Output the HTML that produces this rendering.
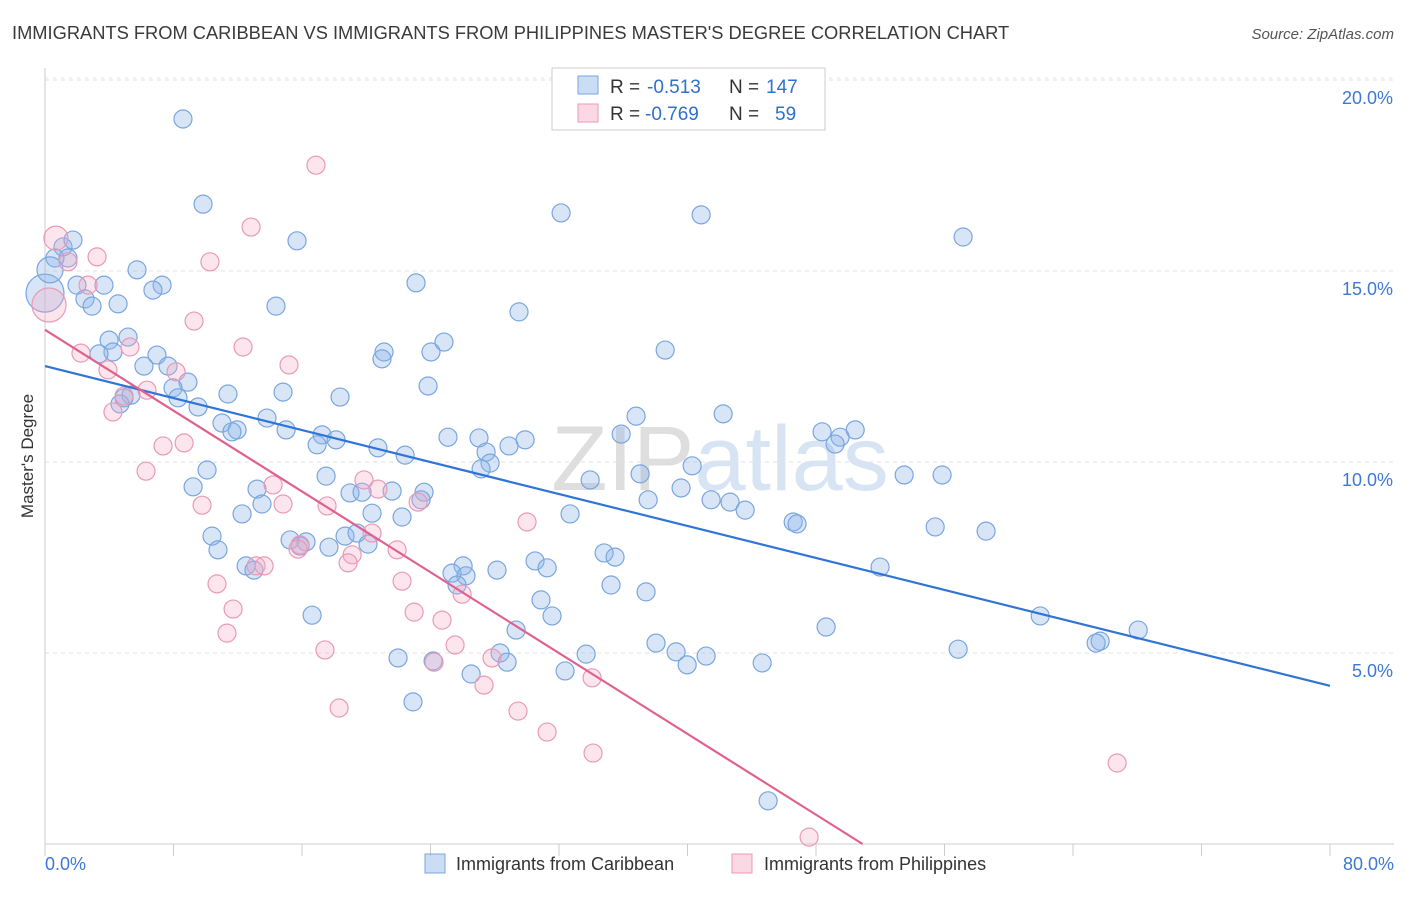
<!DOCTYPE html>
<html><head><meta charset="utf-8"><style>
body{margin:0;background:#fff;font-family:"Liberation Sans",sans-serif;}
svg text{font-family:"Liberation Sans",sans-serif;}
</style></head><body>
<svg id="chart" width="1406" height="892" viewBox="0 0 1406 892" xmlns="http://www.w3.org/2000/svg">
<text x="12" y="39" font-size="18.3" fill="#3a3a3a">IMMIGRANTS FROM CARIBBEAN VS IMMIGRANTS FROM PHILIPPINES MASTER'S DEGREE CORRELATION CHART</text>
<text x="1394" y="39" font-size="15" fill="#555" font-style="italic" text-anchor="end">Source: ZipAtlas.com</text>
<text x="720" y="490" font-size="92" fill="#e4e4e4" text-anchor="middle" font-family="Liberation Serif"><tspan fill="#dedede">ZIP</tspan><tspan fill="#d6e4f4" font-family="Liberation Sans">atlas</tspan></text>
<g id="grid"></g>
<g id="axes"></g>
<g id="pts"></g>
<g id="lines"></g>
<text transform="translate(33,456) rotate(-90)" font-size="17" fill="#333" text-anchor="middle">Master's Degree</text>
<g>
<rect x="552" y="68" width="273" height="62" fill="#fff" stroke="#ccc"/>
<rect x="578" y="76" width="20" height="18" fill="rgba(140,180,232,0.45)" stroke="#7aa6df"/>
<rect x="578" y="104" width="20" height="18" fill="rgba(244,170,196,0.45)" stroke="#e99ab5"/>
<g font-size="19">
<text x="610" y="93" fill="#333">R =</text>
<text x="647" y="93" fill="#2f6fd0">-0.513</text>
<text x="729" y="93" fill="#333">N =</text>
<text x="766" y="93" fill="#2f6fd0">147</text>
</g>
<g font-size="19">
<text x="610" y="120" fill="#333">R =</text>
<text x="645" y="120" fill="#2f6fd0">-0.769</text>
<text x="729" y="120" fill="#333">N =</text>
<text x="775" y="120" fill="#2f6fd0">59</text>
</g>
</g>
<g>
<rect x="425" y="854" width="20" height="19" fill="rgba(140,180,232,0.45)" stroke="#7aa6df"/>
<text x="456" y="870" font-size="18" fill="#333">Immigrants from Caribbean</text>
<rect x="732" y="854" width="20" height="19" fill="rgba(244,170,196,0.45)" stroke="#e99ab5"/>
<text x="764" y="870" font-size="18" fill="#333">Immigrants from Philippines</text>
</g>
</svg>
<script>
const yTicks=[5,10,15,20];
const xTickCount=[0,10,20,30,40,50,60,70,80];
const blueX=[8.59,9.84,15.69,32.13,40.85,57.16,1.12,1.74,1.43,0.62,5.73,1.99,3.67,7.29,6.72,2.49,2.93,4.55,14.38,23.10,29.51,5.17,3.99,4.23,3.36,6.97,6.16,7.66,24.84,24.03,21.11,20.98,38.61,8.90,7.97,8.28,11.39,14.82,18.37,23.85,4.92,5.35,9.53,4.67,13.82,11.02,11.96,11.64,15.01,17.25,18.12,16.94,20.73,22.42,25.09,27.02,29.89,27.46,28.89,27.71,27.15,36.80,42.22,35.87,48.38,50.44,49.50,49.19,10.09,9.22,17.50,13.20,13.51,12.27,18.99,19.74,21.61,23.60,23.41,20.36,22.23,33.94,37.05,40.29,37.55,39.60,41.47,42.65,43.59,32.69,46.58,46.82,53.49,55.85,55.42,58.59,10.40,10.77,15.26,16.25,15.88,17.68,18.68,19.43,20.11,12.52,13.01,26.03,25.34,26.21,28.14,30.51,31.26,34.81,35.49,35.24,25.65,37.42,30.88,31.57,29.33,51.99,61.96,65.69,65.44,68.06,48.63,56.85,16.63,38.04,39.29,41.16,39.98,33.69,28.33,28.77,21.98,24.16,26.53,32.38,44.65,22.91,45.02,0,0.31];
const blueY=[18.98,16.75,15.79,16.52,16.47,15.89,15.63,15.81,15.34,15.34,15.03,14.63,14.63,14.63,14.50,14.27,14.08,14.14,14.08,14.69,13.93,13.27,13.19,12.88,12.83,12.80,12.51,12.51,13.14,12.88,12.88,12.70,12.93,12.09,11.94,11.68,11.78,11.83,11.70,11.99,11.68,11.75,11.44,11.52,11.15,11.02,10.84,10.79,10.84,10.71,10.58,10.45,10.37,10.18,10.65,10.63,10.58,10.26,10.42,9.97,9.82,11.20,11.26,10.73,10.79,10.84,10.65,10.47,9.79,9.35,9.63,9.29,8.90,8.64,9.19,9.21,9.24,9.21,9.01,8.66,8.56,9.53,9.69,9.90,9.01,9.32,9.01,8.95,8.74,8.64,8.43,8.38,9.66,9.66,8.30,8.19,8.06,7.70,7.96,7.91,7.80,7.77,8.06,8.14,7.85,7.28,7.17,7.28,7.09,7.02,7.17,7.41,7.23,7.62,7.51,6.78,6.78,6.60,6.39,5.97,5.60,7.25,5.97,5.31,5.26,5.60,5.68,5.10,5.99,5.26,5.03,4.92,4.69,4.97,5.00,4.76,4.87,4.79,4.45,4.53,4.74,3.72,1.13,14.42,15.03];
const blueSize=blueX.map((v,i)=>i===blueX.length-2?19:(i===blueX.length-1?13:9));
const pinkX=[16.87,12.83,0.68,10.27,3.24,1.43,2.68,9.28,12.33,15.19,2.24,5.29,8.16,3.92,4.92,6.35,4.23,7.35,8.66,6.29,9.78,14.20,14.82,19.86,20.73,17.56,23.23,30.01,20.36,19.12,18.87,15.88,15.75,21.92,13.14,13.64,10.71,11.71,11.33,22.23,22.98,24.72,25.97,25.53,24.22,27.83,17.43,18.31,27.33,29.45,31.26,34.06,34.12,66.75,47.57,0.25];
const pinkY=[17.77,16.15,15.86,15.24,15.37,15.24,14.63,13.69,13.01,12.54,12.85,13.01,12.36,12.41,11.73,11.88,11.31,10.42,10.50,9.76,8.87,9.40,8.90,9.53,9.29,8.85,8.95,8.43,8.14,7.57,7.36,7.83,7.72,7.70,7.28,7.28,6.81,6.15,5.52,6.88,6.07,5.86,6.54,5.21,4.76,4.87,5.08,3.56,4.16,3.48,2.93,4.35,2.38,2.12,0.18,14.11];
const pinkSize=pinkX.map((v,i)=>i===pinkX.length-1?17:(i===2?12:9));
const blueTrend=[12.51,4.14];
const pinkTrend=[13.46,0];
const pinkTrendEndX=50.9;

const X0=45,X1=1330,Y0=844,PX=(X1-X0)/80,PY=38.2;
const sx=v=>X0+v*PX, sy=v=>Y0-v*PY;
const NS="http://www.w3.org/2000/svg";
function mk(tag,parent,attrs){const e=document.createElementNS(NS,tag);for(const k in attrs)e.setAttribute(k,attrs[k]);parent.appendChild(e);return e;}
const grid=document.getElementById('grid'),axes=document.getElementById('axes'),pts=document.getElementById('pts'),lines=document.getElementById('lines');
let tl=mk('line',grid,{x1:X0,x2:1394,y1:78,y2:78,stroke:'#e6e6e6','stroke-dasharray':'3,5'});


yTicks.forEach(t=>{
 const l=mk('line',grid,{x1:X0,x2:1394,y1:sy(t),y2:sy(t),stroke:'#e2e2e2','stroke-dasharray':'4,4'});
 
 
 const tx=mk('text',grid,{x:1393,y:sy(t)+24,'font-size':18,fill:'#3d78d8','text-anchor':'end'});
 tx.textContent=t.toFixed(1)+'%';
 
 
});
let ya=mk('line',axes,{x1:X0,x2:X0,y1:68,y2:Y0,stroke:'#ccc'});


let xa=mk('line',axes,{x1:X0,x2:1394,y1:Y0,y2:Y0,stroke:'#ccc'});


for(let t=0;t<=80;t+=80/10){
 const l=mk('line',axes,{x1:sx(t),x2:sx(t),y1:Y0,y2:Y0+12,stroke:'#ccc'});
 
 
}
[[0,'start','0.0%'],[80,'end','80.0%']].forEach(([v,a,s])=>{
 const tx=mk('text',axes,{x:sx(v)+(a==='end'?64:0),y:870,'font-size':18,fill:'#3d78d8','text-anchor':a});
 tx.textContent=s;
 
 
});
blueX.forEach((x,i)=>{
 const c=mk('circle',pts,{cx:sx(x),cy:sy(blueY[i]),r:blueSize[i],fill:'rgba(140,180,232,0.35)',stroke:'#7aa6df','stroke-width':1.2});
 
 
});
pinkX.forEach((x,i)=>{
 const c=mk('circle',pts,{cx:sx(x),cy:sy(pinkY[i]),r:pinkSize[i],fill:'rgba(244,170,196,0.3)',stroke:'#e99ab5','stroke-width':1.2});
 
 
});
let bl=mk('line',lines,{x1:sx(0),y1:sy(blueTrend[0]),x2:sx(80),y2:sy(blueTrend[1]),stroke:'#2f74d6','stroke-width':2.2});


let pl=mk('line',lines,{x1:sx(0),y1:sy(pinkTrend[0]),x2:sx(pinkTrendEndX),y2:sy(pinkTrend[1]),stroke:'#e0608f','stroke-width':2.2});


</script>
</body></html>
